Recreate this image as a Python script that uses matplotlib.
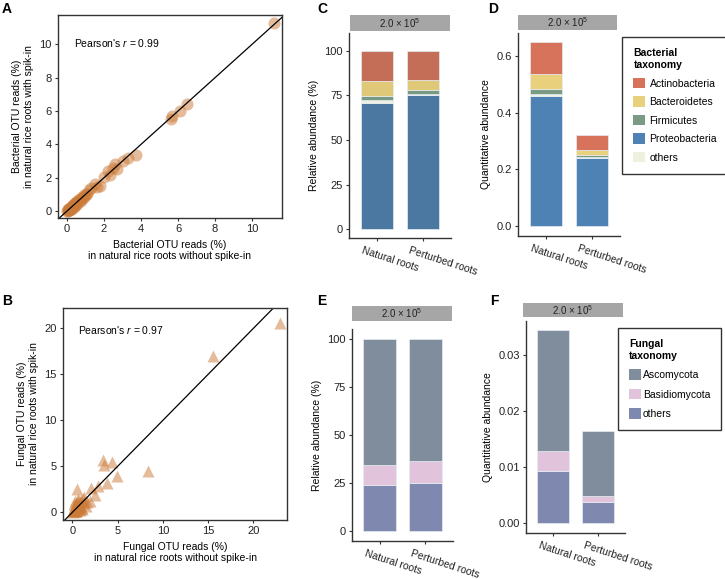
import numpy as np
import matplotlib
matplotlib.use("Agg")
import matplotlib.pyplot as plt
from matplotlib.patches import Patch
from matplotlib.transforms import ScaledTranslation

plt.rcParams['font.family'] = ['Liberation Sans', 'DejaVu Sans']
plt.rcParams['mathtext.fontset'] = 'custom'
plt.rcParams['mathtext.rm'] = 'Liberation Sans'
plt.rcParams['mathtext.it'] = 'Liberation Sans:italic'
plt.rcParams['font.size'] = 7.5

# ---- data: scatter panels ----
bact_x = [0.02, 0.03, 0.05, 0.06, 0.08, 0.1, 0.12, 0.14, 0.17, 0.2, 0.22, 0.25, 0.28, 0.3,
          0.33, 0.36, 0.4, 0.43, 0.47, 0.5, 0.55, 0.6, 0.64, 0.7, 0.75, 0.8, 0.86, 0.9,
          0.95, 1.0, 1.1, 1.2, 1.3, 1.5, 1.6, 1.8, 2.0, 2.2, 2.3, 2.5, 2.6, 2.7, 3.0,
          3.3, 3.7, 5.6, 5.7, 6.1, 6.5, 11.2, 0.15, 0.35, 0.55, 0.75, 0.25, 0.45]
bact_y = [0.01, 0.05, 0.03, 0.1, 0.06, 0.12, 0.09, 0.18, 0.14, 0.22, 0.17, 0.3, 0.24, 0.36,
          0.3, 0.42, 0.38, 0.5, 0.44, 0.56, 0.52, 0.66, 0.6, 0.75, 0.7, 0.86, 0.8, 0.95,
          0.9, 1.05, 1.0, 1.25, 1.4, 1.6, 1.45, 1.5, 2.05, 2.4, 2.15, 2.6, 2.8, 2.5, 3.0,
          3.2, 3.35, 5.5, 5.7, 6.0, 6.4, 11.3, 0.08, 0.25, 0.45, 0.6, 0.12, 0.32]

fung_x = [0.05, 0.1, 0.15, 0.2, 0.25, 0.3, 0.35, 0.4, 0.45, 0.5, 0.55, 0.6, 0.7, 0.8, 0.9,
          1.0, 1.1, 1.2, 1.3, 0.2, 0.5, 0.65, 0.3, 0.8, 1.5, 1.9, 1.1, 1.3, 2.5, 2.1, 2.8,
          3.8, 4.9, 3.4, 3.5, 4.4, 0.5, 8.4, 15.5, 22.9, 0.4, 0.9, 1.6]
fung_y = [0.05, 0.3, 0.1, 0.5, 0.2, 0.7, 0.35, 0.9, 0.15, 1.0, 0.6, 1.2, 0.4, 1.1, 0.8,
          1.3, 0.5, 1.5, 1.0, 0.9, 0.3, 1.4, 1.2, 0.25, 0.7, 1.2, 0.35, 1.7, 1.9, 2.6, 2.9,
          3.2, 3.9, 5.7, 5.1, 5.5, 2.5, 4.5, 17.0, 20.6, 0.15, 0.6, 1.1]

# ---- data: bar panels ----
groups = ['Natural roots', 'Perturbed roots']

bact_taxa = ['Proteobacteria', 'others', 'Firmicutes', 'Bacteroidetes', 'Actinobacteria']
bact_rel = {'Proteobacteria': [71.0, 75.0], 'others': [1.5, 0.8], 'Firmicutes': [2.0, 2.2],
            'Bacteroidetes': [8.5, 5.6], 'Actinobacteria': [17.0, 16.4]}
bact_quant = {'Proteobacteria': [0.4615, 0.240], 'others': [0.0045, 0.004],
              'Firmicutes': [0.018, 0.007], 'Bacteroidetes': [0.055, 0.019],
              'Actinobacteria': [0.111, 0.053]}
bact_colors_rel = {'Proteobacteria': '#4a78a0', 'others': '#eef0e0', 'Firmicutes': '#789a84',
                   'Bacteroidetes': '#dfc877', 'Actinobacteria': '#c56e57'}
bact_colors_q = {'Proteobacteria': '#4e82b5', 'others': '#eef0e0', 'Firmicutes': '#7a9a84',
                 'Bacteroidetes': '#e8d07c', 'Actinobacteria': '#d6735a'}

fung_taxa = ['others', 'Basidiomycota', 'Ascomycota']
fung_rel = {'others': [23.9, 25.3], 'Basidiomycota': [10.6, 11.4], 'Ascomycota': [65.5, 63.3]}
fung_quant = {'others': [0.00936, 0.00388], 'Basidiomycota': [0.00358, 0.00102],
              'Ascomycota': [0.02156, 0.01156]}
fung_colors = {'others': '#7f89b0', 'Basidiomycota': '#e1c4dc', 'Ascomycota': '#7f8d9c'}

strip_label = r'2.0 × 10$^5$'

W, H = 725, 579
fig = plt.figure(figsize=(W / 100, H / 100), dpi=100)


def px_axes(left, top, right, bottom):
    return fig.add_axes([left / W, (H - bottom) / H, (right - left) / W, (bottom - top) / H])


def style_axes(ax, box=False):
    for s in ['left', 'bottom', 'top', 'right']:
        ax.spines[s].set_color('#333333')
        ax.spines[s].set_linewidth(1.0)
    if not box:
        ax.spines['top'].set_visible(False)
        ax.spines['right'].set_visible(False)
    ax.tick_params(direction='out', length=2.5, width=0.8, color='#333333',
                   labelcolor='#222222', labelsize=8, pad=2)


def scatter_panel(ax, x, y, marker, xlab, ylab, r, xlim, ylim, ticks, rpos):
    style_axes(ax, box=True)
    ax.scatter(x, y, s=75, marker=marker, color='#cb7b39', alpha=0.5, linewidths=0)
    ax.axline((0, 0), slope=1, color='black', lw=0.9)
    ax.set_xlim(*xlim)
    ax.set_ylim(*ylim)
    ax.set_xticks(ticks)
    ax.set_yticks(ticks)
    ax.set_xlabel(xlab, fontsize=7.5)
    ax.set_ylabel(ylab, fontsize=7.5)
    ax.text(rpos[0], rpos[1], "Pearson's $\\it{r}$ = " + r, transform=ax.transAxes,
            fontsize=7.5, va='center', ha='left')


def bar_panel(ax, taxa, data, colors, ylim, yticks, ylabel):
    style_axes(ax)
    xpos = np.arange(len(groups))
    bottom = np.zeros(len(groups))
    for t in taxa:
        vals = np.array(data[t])
        ax.bar(xpos, vals, bottom=bottom, width=0.7, color=colors[t],
               edgecolor='#e6edf2', linewidth=0.5)
        bottom += vals
    ax.set_xlim(-0.6, 1.6)
    ax.set_ylim(*ylim)
    ax.set_yticks(yticks)
    ax.set_ylabel(ylabel, fontsize=7.5)
    ax.set_xticks(xpos)
    ax.set_xticklabels(groups, rotation=-18, ha='left', va='top', rotation_mode='anchor',
                       fontsize=7.5)
    for lab in ax.get_xticklabels():
        lab.set_transform(lab.get_transform() + ScaledTranslation(-0.13, -0.01, fig.dpi_scale_trans))


def strip(left, top, right, bottom):
    s = px_axes(left, top, right, bottom)
    s.set_facecolor('#a6a6a6')
    s.set_xticks([])
    s.set_yticks([])
    for sp in s.spines.values():
        sp.set_visible(False)
    s.text(0.5, 0.5, strip_label, ha='center', va='center', fontsize=7, color='#222222')


# A
axA = px_axes(58, 15, 282, 218)
scatter_panel(axA, bact_x, bact_y, 'o',
              'Bacterial OTU reads (%)\nin natural rice roots without spike-in',
              'Bacterial OTU reads (%)\nin natural rice roots with spik-in',
              '0.99', (-0.49, 11.62), (-0.42, 11.76), [0, 2, 4, 6, 8, 10], (0.071, 0.862))

# B
axB = px_axes(63, 308, 287, 520)
scatter_panel(axB, fung_x, fung_y, '^',
              'Fungal OTU reads (%)\nin natural rice roots without spike-in',
              'Fungal OTU reads (%)\nin natural rice roots with spik-in',
              '0.97', (-1.03, 23.7), (-0.83, 22.2), [0, 5, 10, 15, 20], (0.068, 0.895))

# C
axC = px_axes(349, 33, 451, 238)
bar_panel(axC, bact_taxa, bact_rel, bact_colors_rel, (-5, 110), [0, 25, 50, 75, 100],
          'Relative abundance (%)')
strip(350, 15, 450, 31)

# D
axD = px_axes(518, 33, 620, 236)
bar_panel(axD, bact_taxa, bact_quant, bact_colors_q, (-0.0355, 0.683), [0.0, 0.2, 0.4, 0.6],
          'Quantitative abundance')
axD.yaxis.set_major_formatter(matplotlib.ticker.FormatStrFormatter('%.1f'))
strip(518, 15, 617, 30)

# E
axE = px_axes(352, 329, 453, 541)
bar_panel(axE, fung_taxa, fung_rel, fung_colors, (-5, 105), [0, 25, 50, 75, 100],
          'Relative abundance (%)')
strip(352, 306, 452, 321)

# F
axF = px_axes(526, 321, 625, 533)
bar_panel(axF, fung_taxa, fung_quant, fung_colors, (-0.0017, 0.0361), [0.0, 0.01, 0.02, 0.03],
          'Quantitative abundance')
axF.yaxis.set_major_formatter(matplotlib.ticker.FormatStrFormatter('%.2f'))
strip(523, 303, 623, 317)

# legends
bact_order = ['Actinobacteria', 'Bacteroidetes', 'Firmicutes', 'Proteobacteria', 'others']
hb = [Patch(facecolor=bact_colors_q[t], edgecolor='none') for t in bact_order]
legB = fig.legend(hb, bact_order, title='Bacterial\ntaxonomy', loc='upper left',
                  bbox_to_anchor=(622 / W, 1 - 37 / H), borderaxespad=0,
                  fontsize=7.5, title_fontsize=7.5,
                  handlelength=1.15, handleheight=1.15, handletextpad=0.4, labelspacing=0.75,
                  borderpad=1.1, fancybox=False, edgecolor='#333333', framealpha=1)
legB.get_title().set_fontweight('bold')
legB._legend_box.align = 'left'
legB.get_frame().set_linewidth(1.0)

fung_order = ['Ascomycota', 'Basidiomycota', 'others']
hf = [Patch(facecolor=fung_colors[t], edgecolor='none') for t in fung_order]
legF = fig.legend(hf, fung_order, title='Fungal\ntaxonomy', loc='upper left',
                  bbox_to_anchor=(618 / W, 1 - 328 / H), borderaxespad=0,
                  fontsize=7.5, title_fontsize=7.5,
                  handlelength=1.15, handleheight=1.15, handletextpad=0.2, labelspacing=0.85,
                  borderpad=1.05, fancybox=False, edgecolor='#333333', framealpha=1)
legF.get_title().set_fontweight('bold')
legF._legend_box.align = 'left'
legF.get_frame().set_linewidth(1.0)

# panel letters
for letter, x, y in [('A', 2, 13), ('B', 2, 305), ('C', 317, 13), ('D', 488, 13),
                     ('E', 317, 305), ('F', 490, 305)]:
    fig.text(x / W, 1 - y / H, letter, fontsize=10, fontweight='bold', va='baseline')

fig.savefig('out.png', dpi=100)
